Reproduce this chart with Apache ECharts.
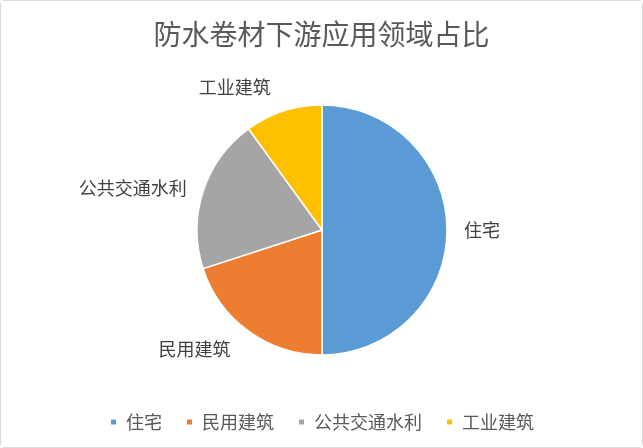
<!DOCTYPE html>
<html>
<head>
<meta charset="utf-8">
<script src="https://cdn.jsdelivr.net/npm/echarts@6/dist/echarts.min.js"></script>
<style>
  html, body { margin: 0; padding: 0; background: #fff; }
  #main { width: 643px; height: 448px; box-sizing: border-box; border: 1px solid #d9d9d9; border-radius: 4px; }
</style>
</head>
<body>
<div id="main"></div>
<script>
// 防水卷材下游应用领域占比
var categories = ['住宅', '民用建筑', '公共交通水利', '工业建筑'];
var shares = [50, 20, 20, 10];
var colors = ['#5B9BD5', '#ED7D31', '#A5A5A5', '#FFC000'];
// distance of each outside label from the pie edge
var labelDist = [12, 22, 12, 25];

var chart = echarts.init(document.getElementById('main'), null, { renderer: 'canvas' });

var pieData = categories.map(function (name, i) {
    return {
        name: name,
        value: shares[i],
        itemStyle: { color: colors[i] },
        labelLine: { show: false, length: labelDist[i], length2: 0 }
    };
});

chart.setOption({
    backgroundColor: '#fff',
    animation: false,
    textStyle: { fontFamily: 'Noto Sans CJK SC' },
    title: {
        text: '防水卷材下游应用领域占比',
        left: 'center',
        top: 14,
        textStyle: { fontSize: 28, fontWeight: 'normal', color: '#595959', fontFamily: 'Noto Sans CJK SC' }
    },
    legend: {
        top: 407,
        left: 'center',
        icon: 'rect',
        itemWidth: 7,
        itemHeight: 7,
        itemGap: 23,
        textStyle: { fontSize: 18, color: '#595959', padding: [0, 0, 0, 4] },
        data: categories
    },
    series: [{
        type: 'pie',
        center: [321, 229],
        radius: 125,
        startAngle: 90,
        clockwise: true,
        data: pieData,
        itemStyle: { borderColor: '#fff', borderWidth: 1.5 },
        label: {
            show: true,
            position: 'outside',
            formatter: '{b}',
            fontSize: 18,
            color: '#404040'
        },
        labelLine: { show: false },
        emphasis: { disabled: true }
    }]
});
</script>
</body>
</html>
